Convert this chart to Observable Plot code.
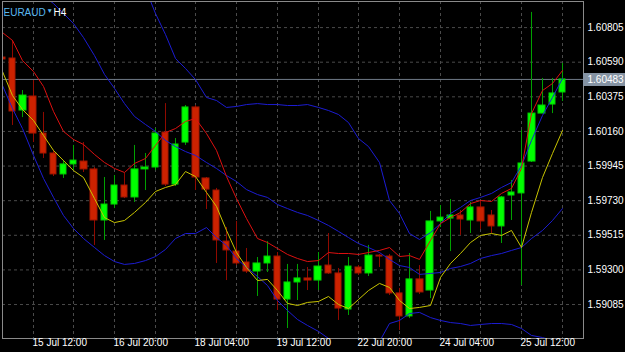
<!DOCTYPE html>
<html><head><meta charset="utf-8">
<script src="https://cdn.jsdelivr.net/npm/d3@7"></script>
<script src="https://cdn.jsdelivr.net/npm/@observablehq/plot@0.6"></script>
<style>
html,body{margin:0;padding:0;background:#000;}
#chart{width:625px;height:352px;overflow:hidden;}
svg{display:block;}
</style></head><body><div id="chart"></div>
<script>
// EURAUD H4 candles (bar index 0..55)
const open = [1.60619,1.60613,1.60290,1.60377,1.60147,1.60023,1.59893,1.59955,1.59973,1.59924,
  1.59607,1.59706,1.59824,1.59750,1.59924,1.59936,1.60153,1.59830,1.60091,1.60309,
  1.59868,1.59793,1.59476,1.59414,1.59346,1.59290,1.59340,1.59383,1.59116,1.59222,
  1.59247,1.59234,1.59327,1.59278,1.59054,1.59315,1.59278,1.59389,1.59383,1.59154,
  1.59011,1.59241,1.59172,1.59601,1.59619,1.59638,1.59607,1.59688,1.59638,1.59570,
  1.59762,1.59775,1.59973,1.60271,1.60327,1.60402];
const high = [1.60631,1.60725,1.60414,1.60476,1.60278,1.60042,1.59979,1.60073,1.60091,1.59936,
  1.59874,1.59886,1.59899,1.60073,1.60023,1.60178,1.60333,1.60116,1.60321,1.60321,
  1.59874,1.59806,1.59563,1.59601,1.59433,1.59377,1.59476,1.59408,1.59334,1.59334,
  1.59315,1.59408,1.59526,1.59309,1.59377,1.59327,1.59452,1.59396,1.59396,1.59185,
  1.59402,1.59327,1.59663,1.59700,1.59737,1.59669,1.59719,1.59725,1.59669,1.59756,
  1.59855,1.60166,1.60899,1.60489,1.60489,1.60582];
const low = [1.60594,1.60197,1.60246,1.60091,1.59992,1.59880,1.59868,1.59917,1.59905,1.59452,
  1.59483,1.59681,1.59743,1.59719,1.59793,1.59917,1.59818,1.59818,1.60073,1.59793,
  1.59675,1.59340,1.59234,1.59327,1.59278,1.59135,1.59284,1.59048,1.58936,1.59110,
  1.59172,1.59172,1.59272,1.58986,1.59017,1.59265,1.59259,1.59315,1.59141,1.58924,
  1.58998,1.59147,1.59122,1.59563,1.59414,1.59514,1.59526,1.59551,1.59526,1.59464,
  1.59607,1.59203,1.59967,1.60271,1.60271,1.60346];
const close = [1.60607,1.60284,1.60383,1.60147,1.60023,1.59893,1.59955,1.59979,1.59924,1.59607,
  1.59706,1.59824,1.59750,1.59924,1.59936,1.60147,1.59830,1.60079,1.60309,1.59874,
  1.59799,1.59483,1.59421,1.59340,1.59290,1.59340,1.59383,1.59116,1.59222,1.59247,
  1.59234,1.59321,1.59278,1.59060,1.59321,1.59278,1.59389,1.59383,1.59154,1.59011,
  1.59241,1.59160,1.59601,1.59625,1.59638,1.59613,1.59688,1.59601,1.59570,1.59750,
  1.59781,1.59961,1.60271,1.60321,1.60396,1.60483];

// Bollinger bands
const upperBand = [1.61998,1.62016,1.62016,1.62085,1.62141,1.62159,1.62147,1.62103,1.61991,1.61824,
  1.61638,1.61501,1.61333,1.61166,1.61048,1.60892,1.60762,1.60613,1.60551,1.60482,
  1.60371,1.60352,1.60309,1.60315,1.60327,1.60333,1.60327,1.60327,1.60321,1.60321,
  1.60327,1.60309,1.60290,1.60265,1.60215,1.60116,1.60066,1.59967,1.59731,1.59650,
  1.59526,1.59489,1.59532,1.59588,1.59650,1.59688,1.59731,1.59750,1.59775,1.59812,
  1.59843,1.59948,1.60104,1.60259,1.60371,1.60489];
const middleBand = [1.61221,1.61159,1.61097,1.61048,1.61004,1.60954,1.60892,1.60830,1.60743,1.60631,
  1.60514,1.60427,1.60333,1.60253,1.60203,1.60160,1.60104,1.60066,1.60035,1.60011,
  1.59967,1.59930,1.59886,1.59849,1.59799,1.59768,1.59750,1.59706,1.59681,1.59657,
  1.59638,1.59607,1.59576,1.59539,1.59501,1.59464,1.59439,1.59408,1.59365,1.59327,
  1.59315,1.59272,1.59278,1.59284,1.59309,1.59321,1.59340,1.59371,1.59389,1.59402,
  1.59421,1.59439,1.59495,1.59545,1.59607,1.59681];
const lowerBand = [1.60445,1.60302,1.60178,1.60011,1.59868,1.59750,1.59638,1.59557,1.59495,1.59439,
  1.59389,1.59352,1.59334,1.59340,1.59358,1.59383,1.59427,1.59495,1.59526,1.59526,
  1.59563,1.59501,1.59452,1.59371,1.59315,1.59259,1.59203,1.59110,1.59048,1.58992,
  1.58955,1.58918,1.58874,1.58818,1.58800,1.58812,1.58806,1.58855,1.58967,1.58986,
  1.59029,1.59036,1.59004,1.58986,1.58973,1.58967,1.58955,1.58961,1.58967,1.58967,
  1.58961,1.58936,1.58893,1.58880,1.58862,1.58830];

// Moving averages
const redLine = [1.60774,1.60725,1.60600,1.60532,1.60439,1.60284,1.60160,1.60110,1.60079,1.60017,
  1.59967,1.59930,1.59905,1.59961,1.59992,1.60073,1.60153,1.60178,1.60222,1.60240,
  1.60147,1.60042,1.59880,1.59743,1.59619,1.59495,1.59470,1.59433,1.59396,1.59371,
  1.59352,1.59358,1.59408,1.59402,1.59402,1.59396,1.59408,1.59421,1.59439,1.59383,
  1.59389,1.59365,1.59483,1.59588,1.59625,1.59657,1.59712,1.59731,1.59725,1.59775,
  1.59806,1.59930,1.60271,1.60414,1.60458,1.60538];
const yellowLine = [1.60532,1.60383,1.60296,1.60228,1.60135,1.60042,1.59979,1.59917,1.59874,1.59743,
  1.59625,1.59594,1.59607,1.59657,1.59719,1.59787,1.59812,1.59830,1.59911,1.59880,
  1.59781,1.59694,1.59545,1.59408,1.59315,1.59234,1.59241,1.59172,1.59092,1.59079,
  1.59098,1.59104,1.59135,1.59085,1.59060,1.59116,1.59172,1.59216,1.59191,1.59110,
  1.59060,1.59067,1.59079,1.59253,1.59340,1.59402,1.59470,1.59514,1.59526,1.59514,
  1.59545,1.59439,1.59657,1.59874,1.60023,1.60166];

// Axis ticks
const xTickIndex = [3, 11, 19, 27, 35, 43, 51];
const xTickLabels = ["15 Jul 12:00", "16 Jul 20:00", "18 Jul 04:00", "19 Jul 12:00", "22 Jul 20:00", "24 Jul 04:00", "25 Jul 12:00"];
const xGridIndex = [3, 7, 11, 15, 19, 23, 27, 31, 35, 39, 43, 47, 51, 55];
const yTicks = [1.60805, 1.60590, 1.60375, 1.60160, 1.59945, 1.59730, 1.59515, 1.59300, 1.59085];
const lastPrice = 1.60483;
const symbol = "EURAUD", timeframe = "H4";

const candles = open.map((o, i) => ({i, open: o, high: high[i], low: low[i], close: close[i], up: close[i] >= o}));
const bulls = candles.filter(d => d.up), bears = candles.filter(d => !d.up);
const series = arr => arr.map((v, i) => ({i, v}));
const xTicks = xTickIndex.map((i, k) => ({i, label: xTickLabels[k]}));
const hw = 0.31;
const font = "Liberation Sans, Arial, sans-serif";
const lastBar = open.length - 1;

const chart = Plot.plot({
  width: 625, height: 352,
  marginLeft: 2, marginRight: 42, marginTop: 1, marginBottom: 14,
  style: {background: "#000", fontFamily: font},
  x: {type: "linear", domain: [0, 57.07], axis: null, round: true},
  y: {domain: [1.58874, 1.60967], axis: null},
  marks: [
    Plot.ruleY(yTicks, {stroke: "#4a4a4a", strokeDasharray: "3,3"}),
    Plot.ruleX(xGridIndex, {stroke: "#4a4a4a", strokeDasharray: "3,3"}),
    Plot.ruleY([lastPrice], {stroke: "#6f7a86"}),
    Plot.ruleX(bulls, {x: "i", y1: "low", y2: "high", stroke: "#00a000", clip: true}),
    Plot.ruleX(bears, {x: "i", y1: "low", y2: "high", stroke: "#900a00", clip: true}),
    Plot.rect(bulls, {x1: d => d.i - hw, x2: d => d.i + hw, y1: "open", y2: "close", fill: "#00ff00", stroke: "#00d000", clip: true}),
    Plot.rect(bears, {x1: d => d.i - hw, x2: d => d.i + hw, y1: "open", y2: "close", fill: "#cc2200", stroke: "#a41600", clip: true}),
    Plot.line(series(upperBand), {x: "i", y: "v", stroke: "#1c1cd2", strokeWidth: 1, clip: true}),
    Plot.line(series(middleBand), {x: "i", y: "v", stroke: "#1c1cd2", strokeWidth: 1, clip: true}),
    Plot.line(series(lowerBand), {x: "i", y: "v", stroke: "#1c1cd2", strokeWidth: 1, clip: true}),
    Plot.line(series(yellowLine), {x: "i", y: "v", stroke: "#c8c400", strokeWidth: 1, clip: true}),
    Plot.line(series(redLine), {x: "i", y: "v", stroke: "#dd1010", strokeWidth: 1, clip: true}),
    Plot.frame({stroke: "#8a8a8a"}),
    Plot.text(yTicks, {y: d => d, text: d => d.toFixed(5), frameAnchor: "right", dx: 4, textAnchor: "start", fill: "#ffffff", fontSize: 10}),
    // current price label box in the right axis area
    Plot.ruleY([lastPrice], {x1: lastBar + 2.1, x2: lastBar + 6.3, stroke: "#8593a3", strokeWidth: 13}),
    Plot.text([lastPrice], {y: d => d, text: d => d.toFixed(5), frameAnchor: "right", dx: 4, textAnchor: "start", fill: "#ffffff", fontSize: 10}),
    Plot.text(xTicks, {x: "i", text: "label", frameAnchor: "bottom", dy: 7, dx: -1, textAnchor: "start", fill: "#ffffff", fontSize: 10}),
    Plot.text([symbol], {frameAnchor: "top-left", dx: 1, dy: 7, textAnchor: "start", fill: "#5ab8f0", fontSize: 10}),
    Plot.text(["\u25BC"], {frameAnchor: "top-left", dx: 44, dy: 7, textAnchor: "start", fill: "#5ab8f0", fontSize: 6.5}),
    Plot.text([timeframe], {frameAnchor: "top-left", dx: 51, dy: 7, textAnchor: "start", fill: "#ffffff", fontSize: 10})
  ]
});

document.getElementById("chart").appendChild(chart);
</script>
</body></html>
